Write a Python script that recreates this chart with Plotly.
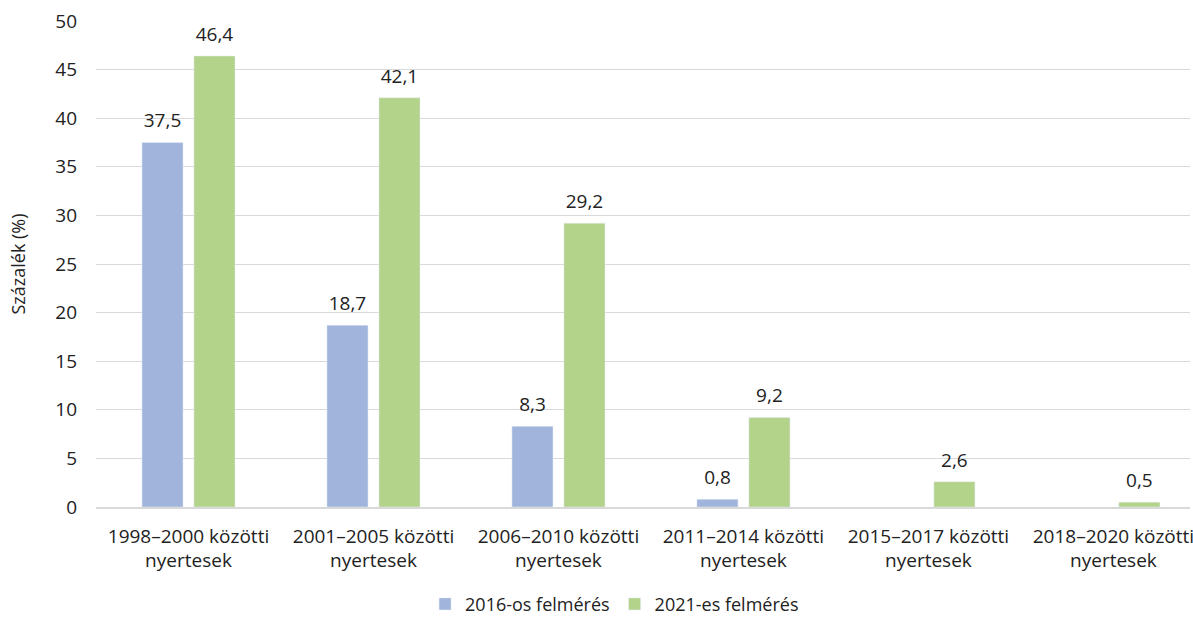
import plotly.graph_objects as go

categories = ["1998–2000 közötti<br>nyertesek", "2001–2005 közötti<br>nyertesek",
              "2006–2010 közötti<br>nyertesek", "2011–2014 közötti<br>nyertesek",
              "2015–2017 közötti<br>nyertesek", "2018–2020 közötti<br>nyertesek"]
s2016 = [37.5, 18.7, 8.3, 0.8, None, None]
s2021 = [46.4, 42.1, 29.2, 9.2, 2.6, 0.5]
name2016 = "2016-os felmérés"
name2021 = "2021-es felmérés"

def fmt(v):
    return "" if v is None else f"{v:.1f}".replace(".", ",")

font = "Open Sans, Liberation Sans, sans-serif"
fig = go.Figure()
fig.add_trace(go.Bar(x=categories, y=s2016, name=name2016, marker_color="#a0b4dc",
                     offsetgroup="a", hoverinfo="skip"))
fig.add_trace(go.Bar(x=categories, y=s2021, name=name2021, marker_color="#b3d28a",
                     offsetgroup="b", hoverinfo="skip"))
# value labels placed above bars (invisible markers give the gap)
for vals, grp in ((s2016, "a"), (s2021, "b")):
    fig.add_trace(go.Scatter(x=categories, y=vals, mode="markers+text",
                             text=[fmt(v) for v in vals], textposition="top center",
                             textfont=dict(size=19, color="#222"),
                             marker=dict(size=15, opacity=0), offsetgroup=grp,
                             showlegend=False, hoverinfo="skip", cliponaxis=False))
fig.update_layout(
    width=1193, height=618, barmode="group", bargap=0.438, bargroupgap=0.21,
    scattermode="group", scattergap=0.438,
    plot_bgcolor="white", paper_bgcolor="white",
    margin=dict(l=96, r=3, t=21, b=111, autoexpand=False),
    font=dict(family=font, size=19, color="#222"),
    legend=dict(orientation="h", x=0.474, xanchor="center", y=-0.2, yanchor="middle",
                font=dict(size=18), traceorder="normal", itemwidth=30),
)
fig.update_yaxes(range=[0, 50], dtick=5, showgrid=True, gridcolor="#d9d9d9", gridwidth=1,
                 zeroline=False, ticks="", tickfont=dict(size=19), automargin=False,
                 ticklabelstandoff=18,
                 title=dict(text="Százalék (%)", font=dict(size=18), standoff=24))
fig.update_xaxes(showline=True, linecolor="#d9d9d9", linewidth=1.5, ticks="",
                 tickfont=dict(size=19), automargin=False, ticklabelstandoff=11,
                 range=[-0.5, 5.414])
fig.write_html("out.html", config={"displayModeBar": False},
               post_script="document.body.style.margin='0';")
